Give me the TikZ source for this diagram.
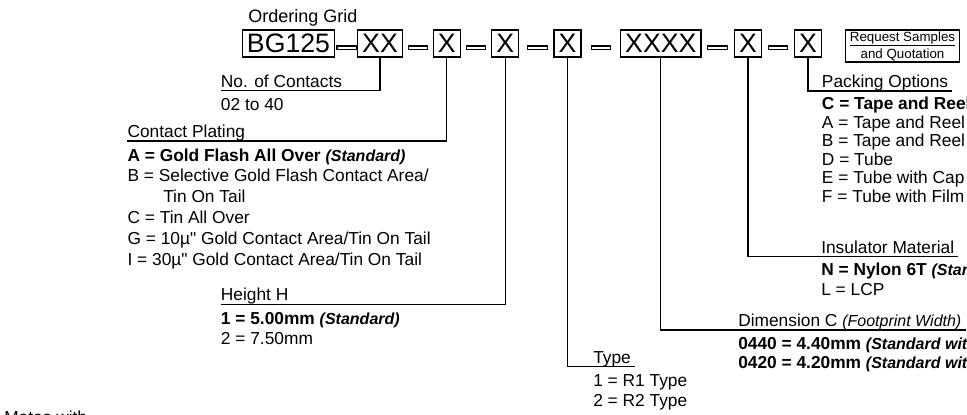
\documentclass[tikz,border=0pt]{standalone}
\usepackage{fontspec}
\setmainfont{Liberation Sans}[Ligatures=TeXOff]
\newcommand\stdtag[1]{{\fontsize{12}{14}\selectfont\itshape #1}}
\tikzset{
  gridbox/.style={draw, line width=1pt, inner xsep=3.4pt, inner ysep=0pt,
    minimum height=20.25pt, font=\fontsize{20}{20}\selectfont},
  sepbar/.style={draw, line width=0.9pt, inner sep=0pt, minimum width=14.5pt, minimum height=2.4pt},
  leader/.style={line width=0.8pt},
  optrow/.style={anchor=base west, inner sep=0pt, font=\fontsize{13}{15}\selectfont},
}
\begin{document}
\begin{tikzpicture}[x=0.75pt, y=-0.75pt]
  % Parameters
  \def\boxy{43.5} % centre line of the grid boxes
  \def\bary{47.5} % height of the bars between boxes
  \def\ul{-2.6pt} % underline below the base line
  \useasboundingbox (0,0) rectangle (967,414);

  % Title and grid boxes
  \node[optrow, font=\fontsize{13.5}{15}\selectfont] (title) at (248,22) {Ordering Grid};
  \foreach \n/\cx/\t in {bg/288.5/BG125, cnt/380/XX, plat/446.8/X, hgt/505.2/X,
      typ/567.5/X, dim/660.8/XXXX, ins/748/X, pack/808/X} {
    \node[gridbox] (\n) at (\cx,\boxy) {\t};
  }

  % Bars between the boxes
  \foreach \cx [count=\i] in {346.7,418,476,537.5,601,717.5,778} {
    \node[sepbar] (bar\i) at (\cx,\bary) {};
  }

  % Request box
  \node[draw, line width=0.8pt, minimum width=86pt, minimum height=24pt, inner sep=0pt,
    align=center, font=\fontsize{10}{12.75}\selectfont] (req) at (902.5,46)
    {\underline{Request Samples}\\and Quotation};

  % No. of Contacts
  \node[optrow] (cntlab) at (220.7,87.2) {No. of Contacts};
  \node[optrow] (cnt1) at (220.7,110.7) {02 to 40};
  \draw[leader] (cnt.south) |- ([yshift=\ul]cntlab.base west);

  % Contact Plating
  \node[optrow] (platlab) at (127.3,137.5) {Contact Plating};
  \node[optrow] (plat1) at (127.3,161) {\textbf{A = Gold Flash All Over \stdtag{(Standard)}}};
  \node[optrow] (plat2) at (127.3,181.8) {B = Selective Gold Flash Contact Area/};
  \node[optrow] (plat3) at (163,202.6) {Tin On Tail};
  \node[optrow] (plat4) at (127.3,223.4) {C = Tin All Over};
  \node[optrow] (plat5) at (127.3,244.2) {G = 10µ" Gold Contact Area/Tin On Tail};
  \node[optrow] (plat6) at (127.3,265) {I = 30µ" Gold Contact Area/Tin On Tail};
  \draw[leader] (plat.south) |- ([yshift=\ul]platlab.base west);

  % Height H
  \node[optrow] (hgtlab) at (220.7,300.8) {Height H};
  \node[optrow] (hgt1) at (220.7,324.3) {\textbf{1 = 5.00mm \stdtag{(Standard)}}};
  \node[optrow] (hgt2) at (220.7,344.3) {2 = 7.50mm};
  \draw[leader] (hgt.south) |- ([yshift=\ul]hgtlab.base west);

  % Type
  \node[optrow] (typlab) at (593,363.2) {Type};
  \node[optrow] (typ1) at (593,386.7) {1 = R1 Type};
  \node[optrow] (typ2) at (593,406.7) {2 = R2 Type};
  \draw[leader] (typ.south) |- ([xshift=3pt,yshift=\ul]typlab.base east);

  % Dimension C
  \node[optrow] (dimlab) at (738,326.5) {Dimension C \stdtag{(Footprint Width)}};
  \node[optrow] (dim1) at (738,349.5) {\textbf{0440 = 4.40mm \stdtag{(Standard with}}};
  \node[optrow] (dim2) at (738,368.5) {\textbf{0420 = 4.20mm \stdtag{(Standard with}}};
  \draw[leader] (dim.south) |- ([xshift=3pt,yshift=\ul]dimlab.base east);

  % Insulator Material
  \node[optrow] (inslab) at (821,253.2) {Insulator Material};
  \node[optrow] (ins1) at (821,275.5) {\textbf{N = Nylon 6T \stdtag{(Standard)}}};
  \node[optrow] (ins2) at (821,295) {L = LCP};
  \draw[leader] (ins.south) |- ([xshift=3pt,yshift=\ul]inslab.base east);

  % Packing Options
  \node[optrow] (packlab) at (821.7,87.5) {Packing Options};
  \node[optrow] (pack1) at (821.7,109.5) {\textbf{C = Tape and Reel}};
  \node[optrow] (pack2) at (821.7,128) {A = Tape and Reel};
  \node[optrow] (pack3) at (821.7,146.5) {B = Tape and Reel};
  \node[optrow] (pack4) at (821.7,165) {D = Tube};
  \node[optrow] (pack5) at (821.7,183.5) {E = Tube with Cap};
  \node[optrow] (pack6) at (821.7,202) {F = Tube with Film};
  \draw[leader] (pack.south) |- ([xshift=3pt,yshift=\ul]packlab.base east);

  % Cut-off note at the bottom
  \node[optrow] (mates) at (4,423.5) {Mates with};
\end{tikzpicture}
\end{document}
